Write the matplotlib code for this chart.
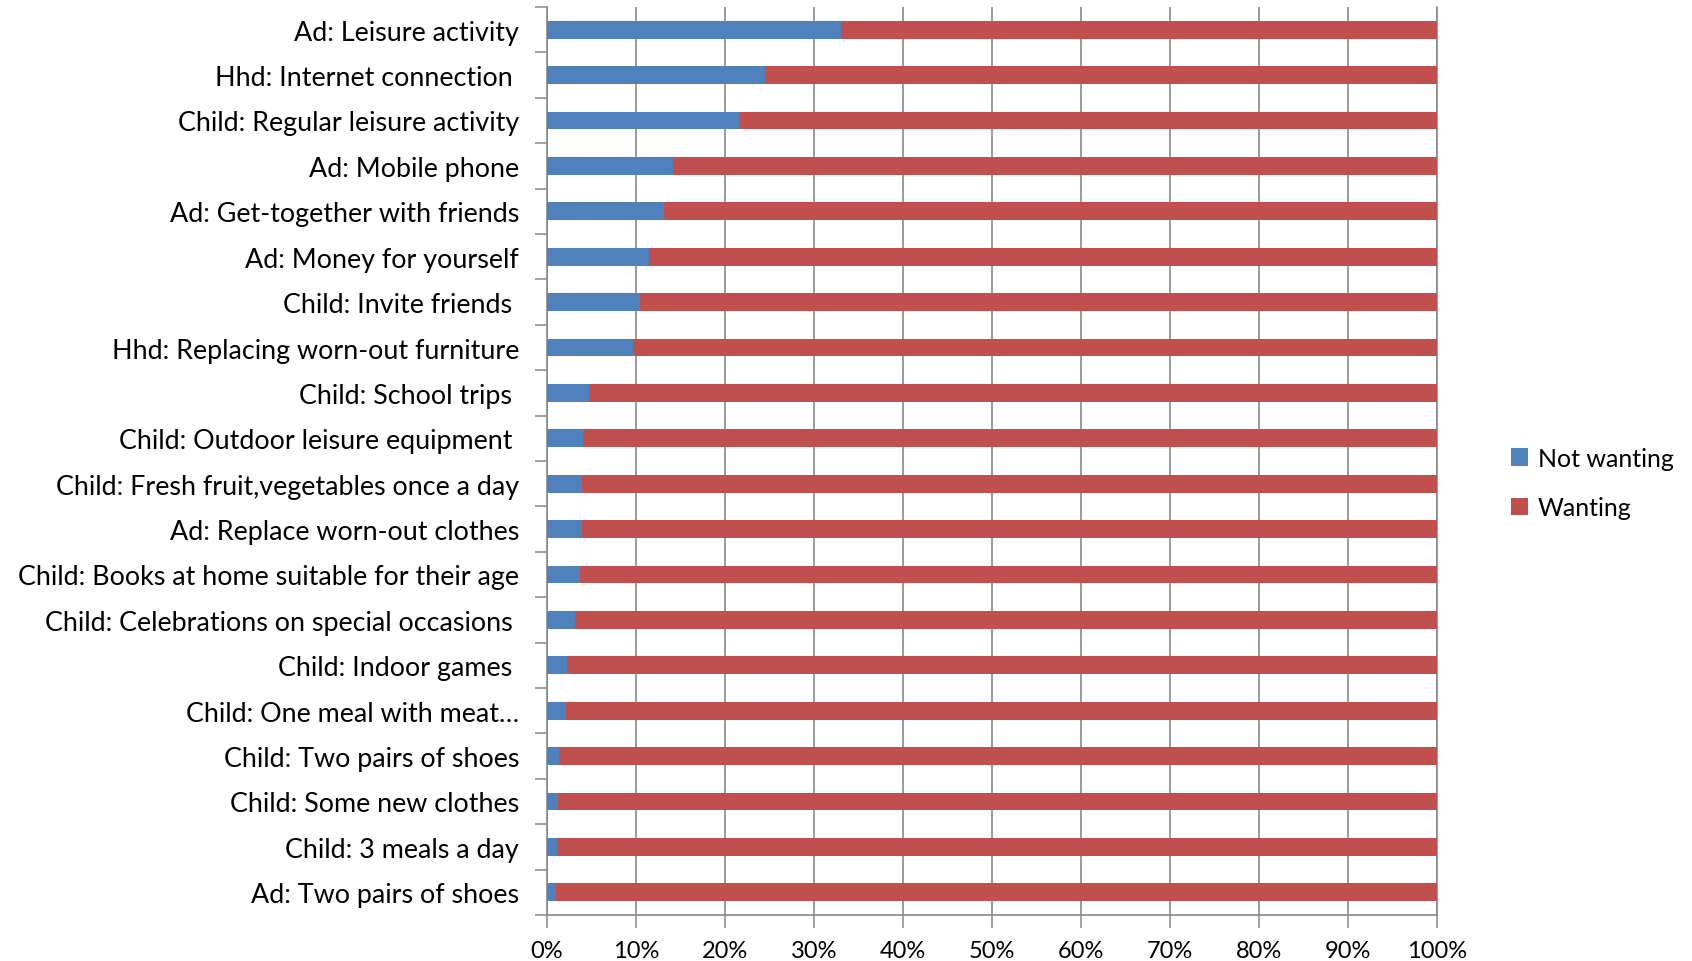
import matplotlib.pyplot as plt
import numpy as np
from matplotlib.ticker import FixedLocator, PercentFormatter

plt.rcParams['font.family'] = ['Lato', 'DejaVu Sans']

# categories, top to bottom
items = [
    "Ad: Leisure activity",
    "Hhd: Internet connection ",
    "Child: Regular leisure activity",
    "Ad: Mobile phone",
    "Ad: Get-together with friends",
    "Ad: Money for yourself",
    "Child: Invite friends ",
    "Hhd: Replacing worn-out furniture",
    "Child: School trips ",
    "Child: Outdoor leisure equipment ",
    "Child: Fresh fruit,vegetables once a day",
    "Ad: Replace worn-out clothes",
    "Child: Books at home suitable for their age",
    "Child: Celebrations on special occasions ",
    "Child: Indoor games ",
    "Child: One meal with meat\u2026",
    "Child: Two pairs of shoes",
    "Child: Some new clothes",
    "Child: 3 meals a day",
    "Ad: Two pairs of shoes",
]
not_wanting = [33.0, 24.5, 21.6, 14.2, 13.1, 11.5, 10.5, 9.7, 4.7, 4.1,
               3.9, 3.9, 3.7, 3.2, 2.25, 2.1, 1.4, 1.2, 1.1, 1.0]
wanting = [100 - v for v in not_wanting]

blue = '#4F81BD'
red = '#C0504D'
grid_grey = '#898989'

fig = plt.figure(figsize=(16.92, 9.62), dpi=100)
ax = fig.add_axes([547 / 1692, 1 - 916 / 962, 890 / 1692, 908 / 962])

y = np.arange(len(items))
ax.barh(y, not_wanting, height=0.39, color=blue, label='Not wanting', zorder=3)
ax.barh(y, wanting, left=not_wanting, height=0.39, color=red, label='Wanting', zorder=3)

ax.set_xlim(0, 100)
ax.set_ylim(len(items) - 0.5, -0.5)

ax.set_xticks(np.arange(0, 101, 10))
ax.xaxis.set_major_formatter(PercentFormatter(decimals=0))
ax.set_yticks(y)
ax.set_yticklabels(items)
ax.yaxis.set_minor_locator(FixedLocator(np.arange(-0.5, len(items), 1)))

ax.tick_params(axis='y', which='major', length=0, pad=20, labelsize=19.4)
ax.tick_params(axis='y', which='minor', length=9, width=1.1, color=grid_grey, direction='out')
ax.tick_params(axis='x', which='major', length=9, width=1.1, color=grid_grey, direction='out',
               pad=9, labelsize=17)

ax.grid(axis='x', color=grid_grey, linewidth=1.2, zorder=0)
ax.spines['top'].set_visible(False)
for s in ['left', 'bottom', 'right']:
    ax.spines[s].set_color(grid_grey)
    ax.spines[s].set_linewidth(1.2)

fig.legend(loc='center left', bbox_to_anchor=(1488 / 1692, 1 - 484 / 962), frameon=False,
           fontsize=18, handlelength=0.7, handleheight=0.7, handletextpad=0.4,
           labelspacing=1.05)

fig.savefig('out.png', dpi=100)
